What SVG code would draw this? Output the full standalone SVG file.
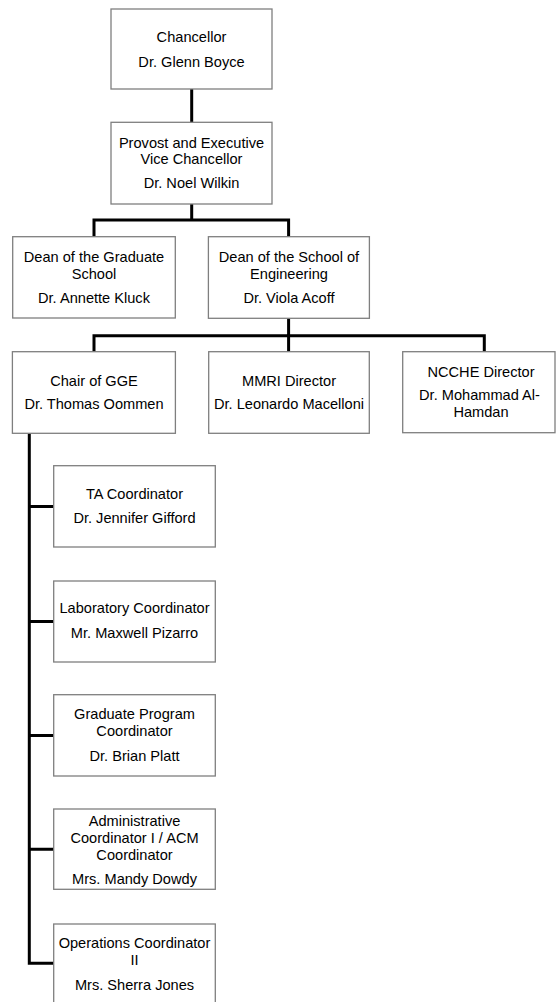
<svg xmlns="http://www.w3.org/2000/svg" width="556" height="1002" viewBox="0 0 556 1002">
<style>
.box{fill:#fff;stroke:#7f7f7f;stroke-width:1.3}
.t{font-family:"Liberation Sans",Arial,sans-serif;font-size:14.6px;fill:#000;text-anchor:middle}
.c{fill:none;stroke:#000;stroke-width:3}
</style>
<rect width="556" height="1002" fill="#fff"/>
<g id="connectors">
<path class="c" d="M191.7 89V122"/>
<path class="c" d="M191.7 204V220M94 237V220H288.6V237"/>
<path class="c" d="M288.6 318V335.7M94 352V335.7H484.3V352M288.6 335.7V352"/>
<path class="c" d="M29.3 433V963.3H54M29.3 506.5H54M29.3 621.6H54M29.3 735.6H54M29.3 849.3H54"/>
</g>
<g id="chancellor"><rect class="box" x="111" y="9" width="161" height="80"/>
<text class="t" x="191.5" y="41.5">Chancellor</text><text class="t" x="191.5" y="66.5">Dr. Glenn Boyce</text></g>
<g id="provost"><rect class="box" x="111" y="122.3" width="161" height="81.7"/>
<text class="t" x="191.5" y="147.5">Provost and Executive</text><text class="t" x="191.5" y="164">Vice Chancellor</text><text class="t" x="191.5" y="187.5">Dr. Noel Wilkin</text></g>
<g id="dean-grad"><rect class="box" x="12.7" y="236.7" width="162.6" height="81.3"/>
<text class="t" x="94" y="261.5">Dean of the Graduate</text><text class="t" x="94" y="279">School</text><text class="t" x="94" y="302.5">Dr. Annette Kluck</text></g>
<g id="dean-eng"><rect class="box" x="208.4" y="236.7" width="161" height="81.6"/>
<text class="t" x="289" y="261.5">Dean of the School of</text><text class="t" x="289" y="279">Engineering</text><text class="t" x="289" y="303">Dr. Viola Acoff</text></g>
<g id="chair"><rect class="box" x="12.4" y="351.7" width="163" height="81.6"/>
<text class="t" x="94" y="386">Chair of GGE</text><text class="t" x="94" y="409">Dr. Thomas Oommen</text></g>
<g id="mmri"><rect class="box" x="208.7" y="351.7" width="160.6" height="81.6"/>
<text class="t" x="289" y="386">MMRI Director</text><text class="t" x="289" y="409">Dr. Leonardo Macelloni</text></g>
<g id="ncche"><rect class="box" x="402.7" y="351.7" width="152.3" height="81"/>
<text class="t" x="481" y="376.5">NCCHE Director</text><text class="t" x="479.5" y="400">Dr. Mohammad Al-</text><text class="t" x="481" y="417">Hamdan</text></g>
<g id="ta"><rect class="box" x="53.7" y="465.7" width="161.6" height="81.3"/>
<text class="t" x="134.5" y="499">TA Coordinator</text><text class="t" x="134.5" y="523">Dr. Jennifer Gifford</text></g>
<g id="lab"><rect class="box" x="53.7" y="581" width="161.6" height="81"/>
<text class="t" x="134.5" y="613">Laboratory Coordinator</text><text class="t" x="134.5" y="638">Mr. Maxwell Pizarro</text></g>
<g id="gradprog"><rect class="box" x="53.7" y="694.7" width="161.6" height="81.3"/>
<text class="t" x="134.5" y="719">Graduate Program</text><text class="t" x="134.5" y="736">Coordinator</text><text class="t" x="134.5" y="761">Dr. Brian Platt</text></g>
<g id="admin"><rect class="box" x="53.7" y="809" width="161.6" height="80.3"/>
<text class="t" x="134.5" y="825.5">Administrative</text><text class="t" x="134.5" y="842.5">Coordinator I / ACM</text><text class="t" x="134.5" y="860">Coordinator</text><text class="t" x="134.5" y="884">Mrs. Mandy Dowdy</text></g>
<g id="ops"><rect class="box" x="53.7" y="924" width="161.6" height="81"/>
<text class="t" x="134.5" y="948">Operations Coordinator</text><text class="t" x="134.5" y="965">II</text><text class="t" x="134.5" y="990">Mrs. Sherra Jones</text></g>
</svg>
